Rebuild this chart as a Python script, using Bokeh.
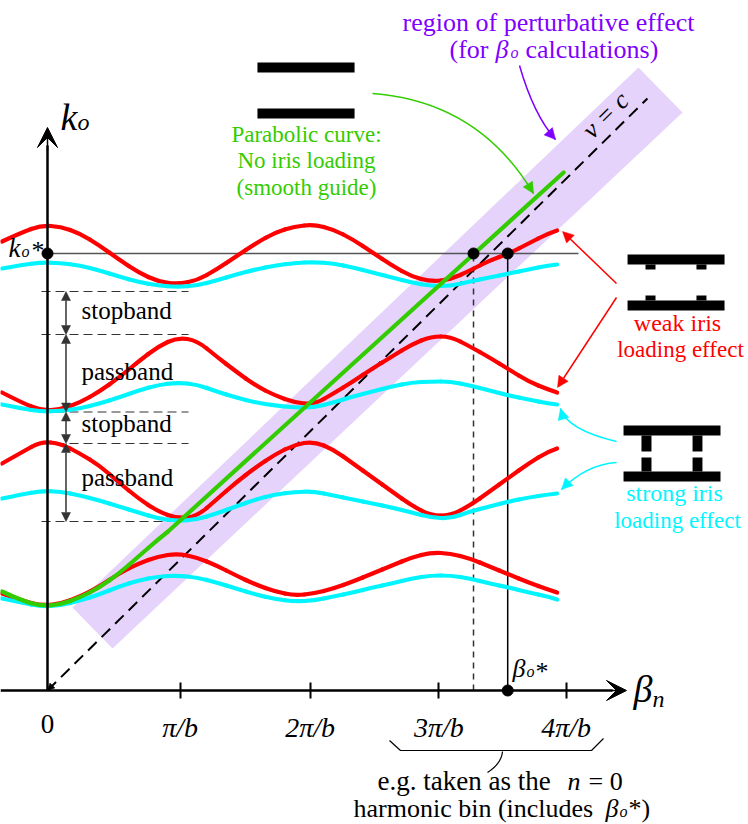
from bokeh.core.properties import value
from bokeh.embed import file_html
from bokeh.models import Arrow, FixedTicker, NormalHead, Range1d, VeeHead
from bokeh.plotting import figure
from bokeh.resources import INLINE

# beta is in units of pi/b, k in arbitrary units (the sketch has no k scale)
beta = [-0.35, -0.2, -0.05, 0.1, 0.25, 0.4, 0.55, 0.7, 0.85, 1.0,
        1.15, 1.3, 1.45, 1.6, 1.75, 1.9, 2.05, 2.2, 2.35, 2.5,
        2.65, 2.8, 2.95, 3.1, 3.25, 3.4, 3.55, 3.7, 3.85, 3.92]

red_1 = [0.97, 0.90, 0.85, 0.865, 0.94, 1.04, 1.17, 1.27, 1.34, 1.37,
         1.33, 1.25, 1.15, 1.06, 0.99, 0.95, 0.97, 1.02, 1.09, 1.17,
         1.25, 1.33, 1.38, 1.37, 1.32, 1.24, 1.16, 1.08, 1.01, 0.98]
red_2 = [2.27, 2.38, 2.49, 2.47, 2.37, 2.25, 2.08, 1.92, 1.79, 1.72,
         1.74, 1.91, 2.08, 2.23, 2.36, 2.46, 2.49, 2.41, 2.27, 2.13,
         1.99, 1.85, 1.75, 1.75, 1.85, 1.99, 2.13, 2.27, 2.39, 2.42]
red_3 = [2.98, 2.88, 2.80, 2.81, 2.88, 2.99, 3.13, 3.29, 3.44, 3.53,
         3.50, 3.34, 3.19, 3.05, 2.95, 2.88, 2.86, 2.97, 3.09, 3.22,
         3.34, 3.46, 3.54, 3.54, 3.44, 3.33, 3.21, 3.09, 3.01, 2.98]
red_4 = [4.49, 4.58, 4.65, 4.64, 4.57, 4.45, 4.31, 4.18, 4.09, 4.065,
         4.10, 4.21, 4.34, 4.47, 4.58, 4.64, 4.66, 4.61, 4.51, 4.38,
         4.25, 4.14, 4.09, 4.11, 4.20, 4.30, 4.37, 4.47, 4.57, 4.60]

cyan_1 = [0.92, 0.88, 0.84, 0.85, 0.90, 0.96, 1.04, 1.10, 1.14, 1.15,
          1.13, 1.08, 1.02, 0.96, 0.915, 0.89, 0.90, 0.94, 0.98, 1.03,
          1.07, 1.12, 1.15, 1.15, 1.12, 1.07, 1.03, 0.98, 0.94, 0.91]
cyan_2 = [1.92, 1.96, 1.995, 1.99, 1.95, 1.90, 1.84, 1.78, 1.72, 1.695,
          1.71, 1.77, 1.84, 1.91, 1.96, 1.985, 1.99, 1.95, 1.91, 1.87,
          1.83, 1.78, 1.73, 1.72, 1.79, 1.84, 1.89, 1.93, 1.96, 1.97]
cyan_3 = [2.86, 2.82, 2.79, 2.795, 2.82, 2.87, 2.93, 3.00, 3.055, 3.08,
          3.06, 2.99, 2.93, 2.88, 2.85, 2.83, 2.83, 2.88, 2.94, 2.99,
          3.04, 3.08, 3.09, 3.09, 3.05, 3.00, 2.95, 2.91, 2.87, 2.86]
cyan_4 = [4.22, 4.255, 4.28, 4.275, 4.25, 4.20, 4.14, 4.085, 4.05, 4.035,
          4.05, 4.10, 4.16, 4.21, 4.25, 4.275, 4.285, 4.27, 4.23, 4.18,
          4.13, 4.08, 4.045, 4.045, 4.09, 4.13, 4.17, 4.21, 4.25, 4.26]

green_beta = [-0.35, -0.2, -0.05, 0.1, 0.25, 0.4, 0.55, 0.7, 0.85, 1.0, 3.97]
green_k = [0.99, 0.90, 0.845, 0.86, 0.93, 1.03, 1.17, 1.34, 1.51, 1.665, 5.18]

band_beta = [0.192, 0.5, 4.885, 4.546]
band_k = [0.83, 0.42, 5.78, 6.23]
light_beta = [0, 4.615]
light_k = [0, 5.92]

tick_beta = [1.02, 2.02, 3.01, 3.99]
tick_labels = ["π/b", "2π/b", "3π/b", "4π/b"]

k_star = 4.37
beta_star = 3.54
beta_cross = 3.277
band_edges = [3.99, 3.56, 2.785, 2.47, 1.69]

# waveguide sketches: left, right, bottom, top
smooth_walls = [(1.615, 2.362, 6.18, 6.28), (1.615, 2.362, 5.72, 5.82)]
weak_walls = [(4.462, 5.208, 4.26, 4.36), (4.462, 5.208, 3.80, 3.90),
              (4.6, 4.677, 4.21, 4.26), (4.992, 5.069, 4.21, 4.26),
              (4.6, 4.677, 3.90, 3.95), (4.992, 5.069, 3.90, 3.95)]
strong_walls = [(4.431, 5.177, 2.55, 2.65), (4.431, 5.177, 2.09, 2.19),
                (4.569, 4.646, 2.39, 2.55), (4.962, 5.038, 2.39, 2.55),
                (4.569, 4.646, 2.19, 2.33), (4.962, 5.038, 2.19, 2.33)]

SERIF = "Liberation Serif"
RED = "#ff0000"
CYAN = "#00f5ff"
GREEN = "#33cc00"
PURPLE = "#7f00ff"


def bx(px):
    return (px - 47) / 130


def ky(py):
    return (690 - py) / 100


p = figure(width=748, height=824, x_range=Range1d(bx(0), bx(748)),
           y_range=Range1d(ky(824), ky(0)), output_backend="svg",
           toolbar_location=None, min_border=0, outline_line_color=None)
p.grid.visible = False

# Axes sit on beta = 0 / k = 0 and stop at the arrow heads
xaxis = p.xaxis[0]
xaxis.fixed_location = 0
xaxis.bounds = (bx(0), bx(612))
xaxis.ticker = FixedTicker(ticks=tick_beta)
xaxis.major_label_overrides = dict(zip(tick_beta, tick_labels))
xaxis.major_label_text_font = SERIF
xaxis.major_label_text_font_style = "italic"
xaxis.major_label_text_font_size = "28px"
xaxis.major_label_text_color = "black"
xaxis.major_label_standoff = 13
xaxis.axis_line_width = 2.5
xaxis.major_tick_line_width = 2
xaxis.major_tick_in = 8
xaxis.major_tick_out = 8

yaxis = p.yaxis[0]
yaxis.fixed_location = 0
yaxis.bounds = (0, ky(145))
yaxis.ticker = FixedTicker(ticks=[])
yaxis.axis_line_width = 2.5
yaxis.major_tick_line_color = None
yaxis.major_label_text_font_size = "0px"


def arrow(x0, y0, x1, y1, color="black", width=1.5, size=11, both=False, head=None):
    end = head or NormalHead(size=size, fill_color=color, line_color=color, line_width=0.5)
    start = NormalHead(size=size, fill_color=color, line_color=color, line_width=0.5) if both else None
    p.add_layout(Arrow(x_start=x0, y_start=y0, x_end=x1, y_end=y1, start=start, end=end,
                       line_color=color, line_width=width))


def curved(px0, py0, cx, cy, px1, py1, color):
    p.quadratic(x0=[bx(px0)], y0=[ky(py0)], x1=[bx(px1)], y1=[ky(py1)],
                cx=[bx(cx)], cy=[ky(cy)], line_color=color, line_width=1.5)
    # no shaft, the head only takes its direction from the control point
    p.add_layout(Arrow(x_start=bx(cx), y_start=ky(cy), x_end=bx(px1), y_end=ky(py1), line_alpha=0,
                       end=NormalHead(size=11, fill_color=color, line_color=color, line_width=0.5)))


def smooth_curve(xs, ys, color):
    # the read points act as control points, so the bands don't look polygonal
    mx = [(a + b) / 2 for a, b in zip(xs[:-1], xs[1:])]
    my = [(a + b) / 2 for a, b in zip(ys[:-1], ys[1:])]
    x0 = [xs[0]] + mx[1:-1]
    y0 = [ys[0]] + my[1:-1]
    x1 = mx[1:-1] + [xs[-1]]
    y1 = my[1:-1] + [ys[-1]]
    p.quadratic(x0=x0, y0=y0, x1=x1, y1=y1, cx=xs[1:-1], cy=ys[1:-1],
                line_color=color, line_width=4.2, line_cap="round")


def label(px, py, text, size=25, color="black", style="normal", align="left", angle=0):
    # py is the baseline; bokeh's svg text lands about a third of the size lower
    p.text(x=[bx(px)], y=[ky(py - 0.36 * size)], text=[text], text_font=value(SERIF),
           text_font_size=f"{size}px", text_color=color, text_font_style=style,
           text_align=align, text_baseline="alphabetic", angle=angle)


p.patch(band_beta, band_k, fill_color="#e5d3fb", line_color=None)

# stopband / passband guides
for k in band_edges:
    p.line([bx(41), bx(188)], [k, k], line_color="#333333", line_width=1.2, line_dash="9 5")

p.line([0, bx(578)], [k_star, k_star], line_color="#555555", line_width=1.5)
p.line([beta_star, beta_star], [0, k_star], line_color="black", line_width=1.5)
p.line([beta_cross, beta_cross], [0, k_star], line_color="#333333", line_width=1.5, line_dash="6 5")
p.line(light_beta, light_k, line_color="black", line_width=2, line_dash="12 7")
arrow(bx(50), ky(687), 0, 0, width=1, size=7)

for reds in (red_1, red_2, red_3, red_4):
    smooth_curve(beta, reds, RED)
for cyans in (cyan_1, cyan_2, cyan_3, cyan_4):
    smooth_curve(beta, cyans, CYAN)
smooth_curve(green_beta, green_k, GREEN)

for walls in (smooth_walls, weak_walls, strong_walls):
    left, right, bottom, top = zip(*walls)
    p.quad(left=list(left), right=list(right), bottom=list(bottom), top=list(top),
           fill_color="black", line_color=None)

for k0, k1 in zip(band_edges[:-1], band_edges[1:]):
    arrow(bx(65.5), k0, bx(65.5), k1, color="#333333", size=9, both=True)

p.scatter([0, beta_cross, beta_star, beta_star], [k_star, k_star, k_star, 0], size=11, color="black")

head = VeeHead(size=20, fill_color="black", line_color="black")
arrow(bx(610), 0, bx(626), 0, head=head)
arrow(0, ky(150), 0, ky(127), head=VeeHead(size=20, fill_color="black", line_color="black"))

# Callout arrows
arrow(bx(616), ky(283), bx(562), ky(231), color=RED)
arrow(bx(616), ky(297), bx(557), ky(387), color=RED)
curved(372, 93, 478, 101, 533, 193, GREEN)
curved(519, 65, 533, 114, 555, 139, PURPLE)
curved(616, 441, 566, 429, 560, 408, CYAN)
curved(616, 462, 586, 464, 561, 489, CYAN)

# Bracket under 3pi/b and 4pi/b
p.line([bx(389), bx(400), bx(591), bx(603)], [ky(740), ky(750), ky(750), ky(738)],
       line_color="black", line_width=1.2)
p.quadratic(x0=[bx(502)], y0=[ky(751)], x1=[bx(487)], y1=[ky(772)], cx=[bx(501)], cy=[ky(763)],
            line_color="black", line_width=1.2)

# Axis names and symbols
label(60, 130, "k", 38, style="italic")
label(77, 130, "o", 24, style="italic")
label(633, 702, "β", 38, style="italic")
label(652, 707, "n", 24, style="italic")
label(47, 733, "0", 27, align="center")
label(8, 257, "k", 27, style="italic")
label(21, 257, "o", 16, style="italic")
label(31, 259, "*", 26)
label(512, 677, "β", 26, style="italic")
label(526, 677, "o", 16, style="italic")
label(535, 680, "*", 26)
label(605, 124, "v = c", 26, style="italic", align="center", angle=0.78)

for py, name in [(319, "stopband"), (380, "passband"), (432, "stopband"), (486, "passband")]:
    label(81, py, name, 25)

label(548, 31, "region of perturbative effect", 26, PURPLE, align="center")
label(449, 58, "(for", 26, PURPLE)
label(495, 58, "β", 26, PURPLE, "italic")
label(510, 58, "o", 16, PURPLE, "italic")
label(525, 58, "calculations)", 26, PURPLE)

label(306, 142, "Parabolic curve:", 23, GREEN, align="center")
label(306, 168, "No iris loading", 23, GREEN, align="center")
label(306, 195, "(smooth guide)", 23, GREEN, align="center")

label(677, 331, "weak iris", 24, RED, align="center")
label(680, 357, "loading effect", 23, RED, align="center")
label(674, 501, "strong iris", 24, CYAN, align="center")
label(677, 528, "loading effect", 23, CYAN, align="center")

label(377, 790, "e.g. taken as the", 27)
label(567, 790, "n", 26, style="italic")
label(588, 790, "= 0", 26)
label(353, 817, "harmonic bin (includes", 26)
label(605, 817, "β", 26, style="italic")
label(619, 817, "o", 16, style="italic")
label(628, 817, "*)", 26)

open("out.html", "w").write(file_html(p, INLINE))
